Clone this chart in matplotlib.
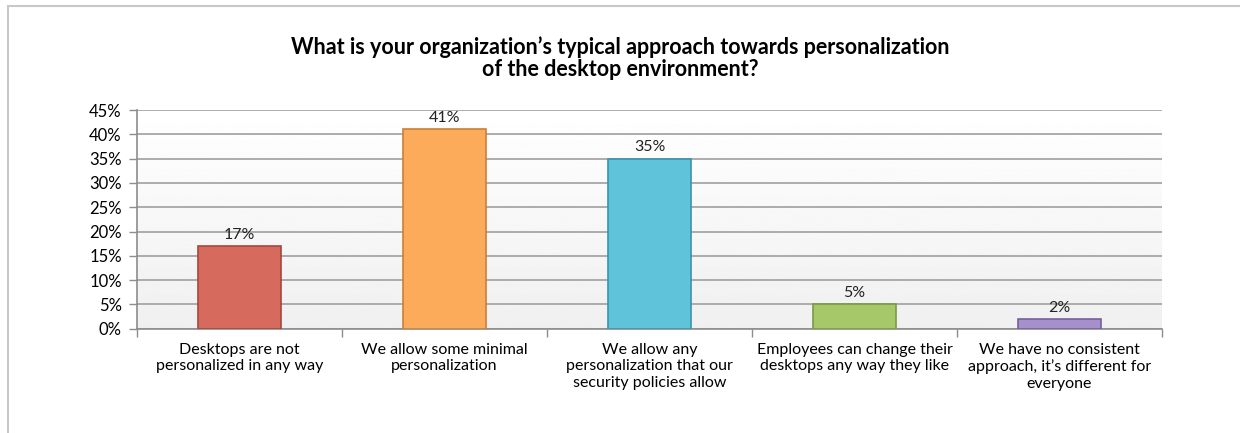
import matplotlib
matplotlib.use("Agg")
import matplotlib.pyplot as plt
import numpy as np
from matplotlib.patches import Rectangle

plt.rcParams['font.family'] = ['Lato', 'DejaVu Sans']

categories = [
    "Desktops are not\npersonalized in any way",
    "We allow some minimal\npersonalization",
    "We allow any\npersonalization that our\nsecurity policies allow",
    "Employees can change their\ndesktops any way they like",
    "We have no consistent\napproach, it\u2019s different for\neveryone",
]
shares = [17, 41, 35, 5, 2]
bar_colors = ["#d66a5d", "#fbab5a", "#5fc3da", "#a6c868", "#a690cb"]
edge_colors = ["#a4483e", "#c98236", "#3c93aa", "#7a9a44", "#76609c"]
title = "What is your organization\u2019s typical approach towards personalization\nof the desktop environment?"

fig = plt.figure(figsize=(12.4, 4.33), dpi=100)

# outer chart frame
fig.patches.append(Rectangle((8 / 1240, -0.1), 1.2, (433 - 6) / 433 + 0.1,
                             transform=fig.transFigure, fill=False,
                             edgecolor="#c8c8c8", linewidth=1.5))

ax = fig.add_axes([137 / 1240, 104.3 / 433, (1162 - 137) / 1240, (328.7 - 110) / 433])

# soft gradient behind the plot area
grad = np.linspace(1.0, 0.94, 256).reshape(-1, 1)
ax.imshow(grad, cmap="gray", vmin=0, vmax=1, aspect="auto",
          extent=[0, 1, 0, 1], transform=ax.transAxes, zorder=0)

x = np.arange(len(categories))
bars = ax.bar(x, shares, width=0.405, color=bar_colors, edgecolor=edge_colors,
              linewidth=1.2, zorder=3)

for xi, v in zip(x, shares):
    ax.text(xi, v + 0.9, f"{v}%", ha="center", va="bottom", fontsize=11.5,
            color="#222222", zorder=4)

ax.set_xlim(-0.5, len(categories) - 0.5)
ax.set_ylim(0, 45)
ax.set_yticks(range(0, 46, 5))
ax.set_yticklabels([f"{t}%" for t in range(0, 46, 5)], fontsize=12)
ax.yaxis.grid(True, color="#a6a6a6", linewidth=1.3, zorder=1)
ax.set_axisbelow(True)

# category labels sit between the boundary ticks
ax.set_xticks(x)
ax.set_xticklabels(categories, fontsize=11.5, linespacing=1.25)
ax.tick_params(axis="x", length=0, pad=10)
ax.set_xticks(np.arange(-0.5, len(categories)), minor=True)
ax.tick_params(axis="x", which="minor", length=6, color="#8c8c8c", width=1)
ax.tick_params(axis="y", length=6, color="#8c8c8c", width=1, pad=5)

for side in ["top", "right"]:
    ax.spines[side].set_visible(False)
ax.spines["left"].set_color("#8c8c8c")
ax.spines["bottom"].set_color("#8c8c8c")
ax.spines["left"].set_linewidth(1.2)
ax.spines["bottom"].set_linewidth(1.2)

fig.text(620 / 1240, 1 - 58 / 433, title, ha="center", va="center",
         fontsize=15.5, fontweight="bold", linespacing=1.1)

fig.savefig("out.png", dpi=100, facecolor="white")
